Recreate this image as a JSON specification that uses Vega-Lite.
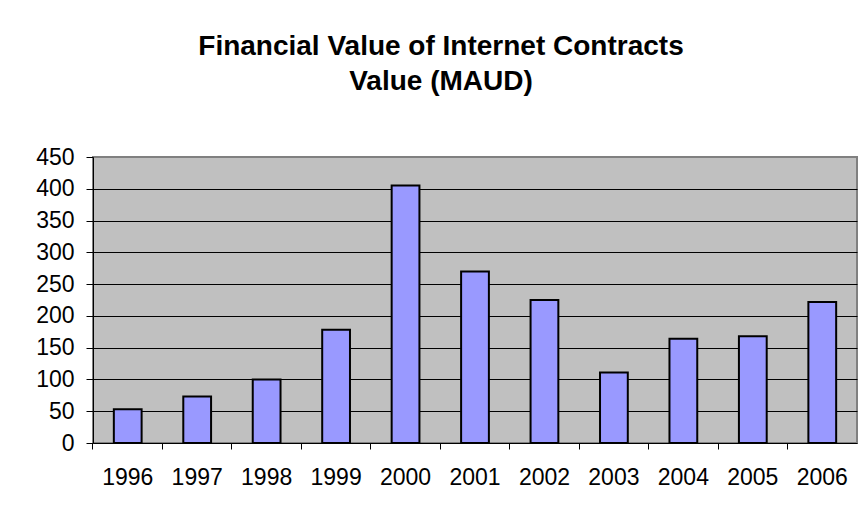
{
  "$schema": "https://vega.github.io/schema/vega-lite/v6.json",
  "autosize": "none",
  "width": 764,
  "height": 286,
  "padding": {"left": 93, "top": 157, "right": 11, "bottom": 70},
  "background": "white",
  "title": {
    "text": ["Financial Value of Internet Contracts", "Value (MAUD)"],
    "font": "Liberation Sans",
    "fontSize": 28,
    "fontWeight": "bold",
    "color": "black",
    "lineHeight": 35,
    "offset": 50,
    "anchor": "middle",
    "dx": -34
  },
  "data": {
    "values": [
      {"year": "1996", "value": 53},
      {"year": "1997", "value": 73},
      {"year": "1998", "value": 100},
      {"year": "1999", "value": 178},
      {"year": "2000", "value": 405},
      {"year": "2001", "value": 270},
      {"year": "2002", "value": 225},
      {"year": "2003", "value": 111},
      {"year": "2004", "value": 164},
      {"year": "2005", "value": 168},
      {"year": "2006", "value": 222}
    ]
  },
  "mark": {"type": "bar", "fill": "#9999FF", "stroke": "black", "strokeWidth": 2},
  "encoding": {
    "x": {
      "field": "year",
      "type": "ordinal",
      "scale": {"paddingInner": 0.6, "paddingOuter": 0.3},
      "axis": {
        "title": null,
        "labelAngle": 0,
        "labelFont": "Liberation Sans",
        "labelFontSize": 23,
        "labelColor": "black",
        "labelPadding": 17,
        "tickSize": 6,
        "tickColor": "black",
        "tickWidth": 1,
        "bandPosition": -0.75,
        "domainColor": "black",
        "domainWidth": 1
      }
    },
    "y": {
      "field": "value",
      "type": "quantitative",
      "scale": {"domain": [0, 450], "nice": false},
      "axis": {
        "title": null,
        "values": [0, 50, 100, 150, 200, 250, 300, 350, 400, 450],
        "labelFont": "Liberation Sans",
        "labelFontSize": 23,
        "labelColor": "black",
        "labelPadding": 12,
        "tickSize": 7,
        "tickColor": "black",
        "tickWidth": 1,
        "domainColor": "black",
        "domainWidth": 1,
        "grid": true,
        "gridColor": "black",
        "gridWidth": 1,
        "gridOpacity": {"condition": {"test": "datum.value === 450 || datum.value === 0", "value": 0}, "value": 1}
      }
    }
  },
  "config": {
    "view": {"fill": "#C0C0C0", "stroke": "#808080", "strokeWidth": 2}
  }
}
